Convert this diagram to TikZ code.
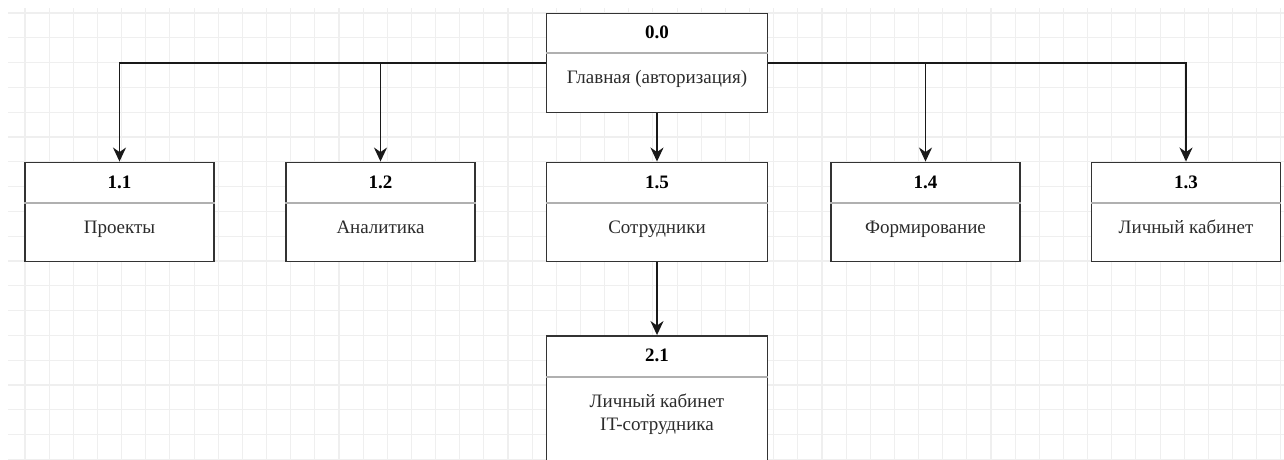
\documentclass[tikz,border=0pt]{standalone}
\usepackage{fontspec}
\setmainfont{Liberation Serif}
\usetikzlibrary{arrows.meta}
\definecolor{gridc}{HTML}{EFEFEF}
\definecolor{boxc}{HTML}{333333}
\definecolor{sepc}{HTML}{B0B0B0}
\definecolor{txtc}{HTML}{2B2B2B}
\tikzset{
  gridline/.style={draw=gridc, line width=1.1pt},
  pbox/.style={draw=boxc, fill=white, line width=1.9pt, rectangle, inner sep=0pt, minimum height=99pt},
  wbox/.style={pbox, minimum width=221pt},
  nbox/.style={pbox, minimum width=189pt},
  sepline/.style={draw=sepc, line width=1.3pt},
  ttl/.style={font=\fontsize{19}{23}\selectfont\bfseries, text=black, inner sep=0pt, anchor=base},
  bdy/.style={font=\fontsize{19}{23}\selectfont, text=txtc, inner sep=0pt, anchor=base, align=center},
  conn/.style={draw=black!90, line width=1.7pt, -{Stealth[length=14pt,width=13pt,inset=4.5pt]}}
}
\begin{document}
\begin{tikzpicture}[x=1pt,y=-1pt]
\useasboundingbox (0,0) rectangle (1284,459);
\begin{scope}
\clip (0,0) rectangle (1284,459);
\fill[white] (0,0) rectangle (1284,459);
\foreach \i in {0,...,52} \draw[gridline] ({25+24.15*\i},8) -- ({25+24.15*\i},459);
\foreach \j in {0,...,18} \draw[gridline] (8,{13+24.8*\j}) -- (1284,{13+24.8*\j});

% boxes
\node[wbox] (n00) at (657,63) {};
\node[nbox] (n11) at (119.5,212) {};
\node[nbox] (n12) at (380.5,212) {};
\node[wbox] (n15) at (657,212) {};
\node[nbox] (n14) at (925.5,212) {};
\node[nbox] (n13) at (1186,212) {};
\node[wbox, minimum height=135pt] (n21) at (657,403.5) {};

% separators
\draw[sepline] (n00.west |- 0,53) -- (n00.east |- 0,53);
\foreach \n in {n11,n12,n15,n14,n13} \draw[sepline] (\n.west |- 0,203) -- (\n.east |- 0,203);
\draw[sepline] (n21.west |- 0,377) -- (n21.east |- 0,377);

% texts
\node[ttl] (t00) at (657,38.5) {0.0};
\node[bdy] (b00) at (657,83.5) {Главная (авторизация)};
\node[ttl] (t11) at (n11 |- 0,188) {1.1};
\node[bdy] (b11) at (n11 |- 0,233) {Проекты};
\node[ttl] (t12) at (n12 |- 0,188) {1.2};
\node[bdy] (b12) at (n12 |- 0,233) {Аналитика};
\node[ttl] (t15) at (n15 |- 0,188) {1.5};
\node[bdy] (b15) at (n15 |- 0,233) {Сотрудники};
\node[ttl] (t14) at (n14 |- 0,188) {1.4};
\node[bdy] (b14) at (n14 |- 0,233) {Формирование};
\node[ttl] (t13) at (n13 |- 0,188) {1.3};
\node[bdy] (b13) at (n13 |- 0,233) {Личный кабинет};
\node[ttl] (t21) at (n21 |- 0,361) {2.1};
\node[bdy, anchor=center] (b21) at (n21 |- 0,414) {Личный кабинет\\IT-сотрудника};

% connectors
\draw[conn] (n00.west) -| (n11.north);
\draw[conn] (n00.west) -| (n12.north);
\draw[conn] (n00.east) -| (n14.north);
\draw[conn] (n00.east) -| (n13.north);
\draw[conn] (n00.south) -- (n15.north);
\draw[conn] (n15.south) -- (n21.north);
\end{scope}
\end{tikzpicture}
\end{document}
